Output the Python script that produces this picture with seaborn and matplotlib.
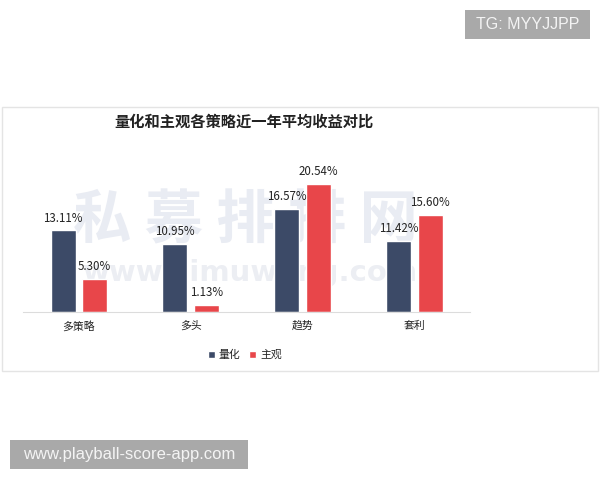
import pandas as pd
import matplotlib.pyplot as plt
from matplotlib.patches import Rectangle
import seaborn as sns

# ── 数据 ─────────────────────────────────────────────────────────────
strategies = ["多策略", "多头", "趋势", "套利"]
quant = [13.11, 10.95, 16.57, 11.42]        # 量化
subjective = [5.30, 1.13, 20.54, 15.60]     # 主观
series_names = ["量化", "主观"]
title = "量化和主观各策略近一年平均收益对比"

COLOR_QUANT = "#3c4a67"
COLOR_SUBJ = "#e8464a"
TEXT_COLOR = "#222222"

sns.set_theme(style="white")
plt.rcParams["font.family"] = ["Noto Sans CJK SC", "DejaVu Sans"]

df = pd.DataFrame({
    "策略": strategies * 2,
    "收益": quant + subjective,
    "类型": [series_names[0]] * len(quant) + [series_names[1]] * len(subjective),
})

W, H = 600, 480
fig = plt.figure(figsize=(W / 100, H / 100), dpi=100)


def px(x0, y0, w, h):
    # 像素坐标(左上角原点) -> figure 坐标
    return [x0 / W, 1 - (y0 + h) / H, w / W, h / H]


ax = fig.add_axes(px(22.75, 150, 447.6, 161.7))
sns.barplot(data=df, x="策略", y="收益", hue="类型",
            palette=[COLOR_QUANT, COLOR_SUBJ], saturation=1,
            width=0.56, gap=0.2, errorbar=None, ax=ax)

for cont, vals in zip(ax.containers, [quant, subjective]):
    ax.bar_label(cont, labels=[f"{v:.2f}%" for v in vals],
                 padding=4, fontsize=8.3, color=TEXT_COLOR)

ax.set_xlim(-0.5, 3.5)
ax.set_ylim(0, 26)
ax.set_xlabel("")
ax.set_ylabel("")
ax.set_yticks([])
for s in ["top", "right", "left"]:
    ax.spines[s].set_visible(False)
ax.spines["bottom"].set_color("#dcdcdc")
ax.spines["bottom"].set_linewidth(0.8)
ax.tick_params(axis="x", length=0, pad=6.5, labelsize=7.8, colors=TEXT_COLOR)

handles, labels = ax.get_legend_handles_labels()
ax.legend(handles, labels, loc="center",
          bbox_to_anchor=(245 / W, 1 - 355 / H), bbox_transform=fig.transFigure,
          ncol=2, frameon=False, handlelength=0.6, handleheight=0.6,
          handletextpad=0.4, columnspacing=0.8, fontsize=7.8,
          labelcolor=TEXT_COLOR)

# 水印(在柱子后面)
ax.text(245 / W, 1 - 221 / H, "私 募 排 排 网", transform=fig.transFigure,
        ha="center", va="center", fontsize=42, fontweight="bold",
        color="#e9ecf3", zorder=0.5, clip_on=False)
ax.text(251 / W, 1 - 273 / H, "www.simuwang.com", transform=fig.transFigure,
        ha="center", va="center", fontsize=21, fontweight="bold",
        family="DejaVu Sans", color="#eceef3", zorder=0.5, clip_on=False)

# 标题
fig.text(244 / W, 1 - 122 / H, title, ha="center", va="center",
         fontsize=11, fontweight="bold", color=TEXT_COLOR)

# 图表外框
fig.patches.append(Rectangle((2 / W, 1 - 371 / H), 596 / W, 264 / H,
                             transform=fig.transFigure, fill=False,
                             edgecolor="#e4e4e4", lw=1))

# 灰色标签框
fig.patches.append(Rectangle((465 / W, 1 - 39.3 / H), 125 / W, 29.3 / H,
                             transform=fig.transFigure, color="#a9a9a9", lw=0))
fig.text(527.5 / W, 1 - 24.7 / H, "TG: MYYJJPP", ha="center", va="center",
         fontsize=11.5, color="#f4f4f4", family="Liberation Sans")
fig.patches.append(Rectangle((10 / W, 1 - 469.3 / H), 238.3 / W, 29.3 / H,
                             transform=fig.transFigure, color="#a9a9a9", lw=0))
fig.text(129.2 / W, 1 - 454.7 / H, "www.playball-score-app.com", ha="center",
         va="center", fontsize=12, color="#f4f4f4", family="Liberation Sans")

fig.savefig("out.png", dpi=100, facecolor="white")
